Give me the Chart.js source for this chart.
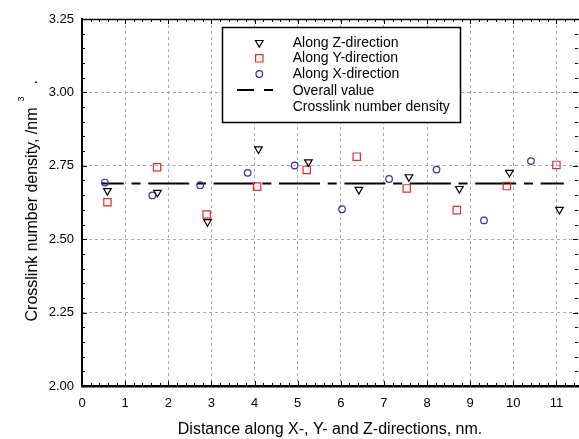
<!DOCTYPE html>
<html>
  <head>
    <meta charset="UTF-8" />
    <title>Crosslink number density</title>
    <script src="https://cdn.jsdelivr.net/npm/chart.js"></script>
    <style>
      html,
      body {
        margin: 0;
        padding: 0;
        background: #fff;
      }

      #wrap {
        width: 579px;
        height: 439px;
      }
    </style>
  </head>

  <body>
    <div id="wrap">
      <canvas id="densityChart" width="579" height="439"></canvas>
    </div>

    <script>
      // distance (nm) and crosslink density
      const zDist = [0.59, 1.75, 2.91, 4.09, 5.25, 6.42, 7.58, 8.75, 9.91, 11.07];
      const zDensity = [2.665, 2.659, 2.559, 2.807, 2.763, 2.669, 2.712, 2.672, 2.727, 2.601];

      const yDist = [0.59, 1.74, 2.89, 4.06, 5.21, 6.37, 7.53, 8.69, 9.85, 11.0];
      const yDensity = [2.626, 2.745, 2.584, 2.679, 2.736, 2.781, 2.673, 2.599, 2.681, 2.753];

      const xDist = [0.53, 1.63, 2.74, 3.84, 4.93, 6.03, 7.12, 8.22, 9.32, 10.41];
      const xDensity = [2.693, 2.649, 2.684, 2.726, 2.751, 2.602, 2.705, 2.737, 2.564, 2.766];

      // overall value line
      const overallDist = [0.46, 11.17];
      const overallValue = [2.69, 2.69];

      const legendLabels = [
        "Along Z-direction",
        "Along Y-direction",
        "Along X-direction",
        "Overall value",
        "Crosslink number density",
      ];

      const xTitle = "Distance along X-, Y- and Z-directions, nm.";
      const yTitle = "Crosslink number density, /nm";

      const FONT = "'Liberation Sans', Arial, sans-serif";
      const RED = "#e8272b";
      const BLUE = "#32329c";

      function toPoints(xs, ys) {
        return xs.map((x, i) => ({ x: x, y: ys[i] }));
      }

      // inward ticks on all four sides + top border
      const boxTicks = {
        id: "boxTicks",
        afterDraw(chart) {
          const { ctx, chartArea: a, scales } = chart;
          ctx.save();
          ctx.strokeStyle = "#000";
          ctx.lineWidth = 1.5;
          ctx.beginPath();
          ctx.moveTo(a.left, a.top + 0.5);
          ctx.lineTo(chart.width, a.top + 0.5);
          ctx.stroke();

          ctx.lineWidth = 1;
          ctx.beginPath();
          for (let i = 0; i <= 57; i++) {
            const px = Math.round(scales.x.getPixelForValue(i * 0.2)) + 0.5;
            const len = i % 5 === 0 ? 5 : 3;
            ctx.moveTo(px, a.bottom);
            ctx.lineTo(px, a.bottom - len);
            ctx.moveTo(px, a.top);
            ctx.lineTo(px, a.top + len);
          }
          for (let i = 0; i <= 25; i++) {
            const py = Math.round(scales.y.getPixelForValue(2 + i * 0.05)) + 0.5;
            const len = i % 5 === 0 ? 5 : 3;
            ctx.moveTo(a.left, py);
            ctx.lineTo(a.left + len, py);
            ctx.moveTo(a.right, py);
            ctx.lineTo(a.right - len, py);
          }
          ctx.stroke();
          ctx.restore();
        },
      };

      // rotated y title with superscript
      const yAxisTitle = {
        id: "yAxisTitle",
        afterDraw(chart) {
          const ctx = chart.ctx;
          ctx.save();
          ctx.translate(36.5, 321.5);
          ctx.rotate(-Math.PI / 2);
          ctx.fillStyle = "#000";
          ctx.textBaseline = "alphabetic";
          ctx.textAlign = "left";
          ctx.font = "16px " + FONT;
          ctx.fillText(yTitle, 0, 0);
          const w = ctx.measureText(yTitle).width;
          ctx.font = "9px " + FONT;
          ctx.fillText("3", w + 6, -12.5);
          ctx.font = "16px " + FONT;
          ctx.fillText(".", w + 23, 0);
          ctx.restore();
        },
      };

      // boxed legend inside the plot
      const boxLegend = {
        id: "boxLegend",
        afterDraw(chart) {
          const ctx = chart.ctx;
          const rows = [42.7, 58.3, 74, 90.7, 107.3];
          ctx.save();
          ctx.fillStyle = "#fff";
          ctx.fillRect(222, 27, 239, 95);
          ctx.strokeStyle = "#000";
          ctx.lineWidth = 1.5;
          ctx.strokeRect(222.5, 27.5, 238, 95);

          chart.data.datasets.slice(0, 3).forEach((ds, i) => {
            ctx.strokeStyle = ds.borderColor;
            ctx.fillStyle = "rgba(0,0,0,0)";
            ctx.lineWidth = ds.borderWidth;
            Chart.helpers.drawPoint(
              ctx,
              {
                pointStyle: ds.pointStyle,
                rotation: ds.rotation || 0,
                radius: ds.pointRadius,
                borderWidth: ds.borderWidth,
              },
              259.3,
              rows[i]
            );
          });

          ctx.strokeStyle = "#000";
          ctx.lineWidth = 2;
          ctx.beginPath();
          ctx.moveTo(237, 90);
          ctx.lineTo(254, 90);
          ctx.moveTo(264, 90);
          ctx.lineTo(273, 90);
          ctx.stroke();

          ctx.fillStyle = "#000";
          ctx.font = "14px " + FONT;
          ctx.textBaseline = "middle";
          ctx.textAlign = "left";
          legendLabels.forEach((t, i) => ctx.fillText(t, 292.7, rows[i]));
          ctx.restore();
        },
      };

      const ctx = document.getElementById("densityChart").getContext("2d");
      const chart = new Chart(ctx, {
        type: "scatter",
        data: {
          datasets: [
            {
              label: legendLabels[0],
              data: toPoints(zDist, zDensity),
              pointStyle: "triangle",
              rotation: 180,
              pointRotation: 180,
              pointRadius: 4.4,
              borderWidth: 1.2,
              borderColor: "#000",
              backgroundColor: "rgba(0,0,0,0)",
              order: 1,
            },
            {
              label: legendLabels[1],
              data: toPoints(yDist, yDensity),
              pointStyle: "rect",
              pointRadius: 5.2,
              borderWidth: 1.2,
              borderColor: RED,
              backgroundColor: "rgba(0,0,0,0)",
              order: 1,
            },
            {
              label: legendLabels[2],
              data: toPoints(xDist, xDensity),
              pointStyle: "circle",
              pointRadius: 3.3,
              borderWidth: 1.2,
              borderColor: BLUE,
              backgroundColor: "rgba(0,0,0,0)",
              order: 1,
            },
            {
              label: legendLabels[3],
              type: "line",
              data: toPoints(overallDist, overallValue),
              showLine: true,
              pointRadius: 0,
              borderColor: "#000",
              borderWidth: 2,
              borderDash: [41, 7.7, 9, 7.7],
              borderDashOffset: 19,
              order: 2,
            },
          ],
        },
        options: {
          responsive: false,
          animation: false,
          devicePixelRatio: 1,
          layout: {
            autoPadding: false,
            padding: { top: 19, right: 1, left: 0, bottom: 0 },
          },
          plugins: {
            legend: { display: false },
            tooltip: { enabled: false },
          },
          scales: {
            x: {
              type: "linear",
              min: 0,
              max: 11.5,
              afterFit: (s) => {
                s.height = 53;
                s.paddingLeft = 0;
                s.paddingRight = 0;
              },
              ticks: {
                stepSize: 1,
                includeBounds: false,
                color: "#000",
                padding: 10,
                maxRotation: 0,
                font: { family: FONT, size: 13 },
              },
              grid: {
                color: "#aaa",
                lineWidth: 1,
                drawTicks: false,
              },
              border: {
                display: true,
                color: "#000",
                width: 2.5,
                dash: [3, 3],
              },
              title: {
                display: true,
                text: xTitle,
                color: "#000",
                padding: { top: 0, bottom: 0 },
                font: { family: FONT, size: 16 },
              },
            },
            y: {
              type: "linear",
              min: 2,
              max: 3.25,
              afterFit: (s) => {
                s.width = 82;
                s.paddingTop = 0;
                s.paddingBottom = 0;
              },
              ticks: {
                stepSize: 0.25,
                color: "#000",
                padding: 8,
                font: { family: FONT, size: 13 },
                callback: (v) => v.toFixed(2),
              },
              grid: {
                color: "#aaa",
                lineWidth: 1,
                drawTicks: false,
              },
              border: {
                display: true,
                color: "#000",
                width: 2,
                dash: [3, 3],
              },
            },
          },
        },
        plugins: [boxTicks, yAxisTitle, boxLegend],
      });
    </script>
  </body>
</html>
